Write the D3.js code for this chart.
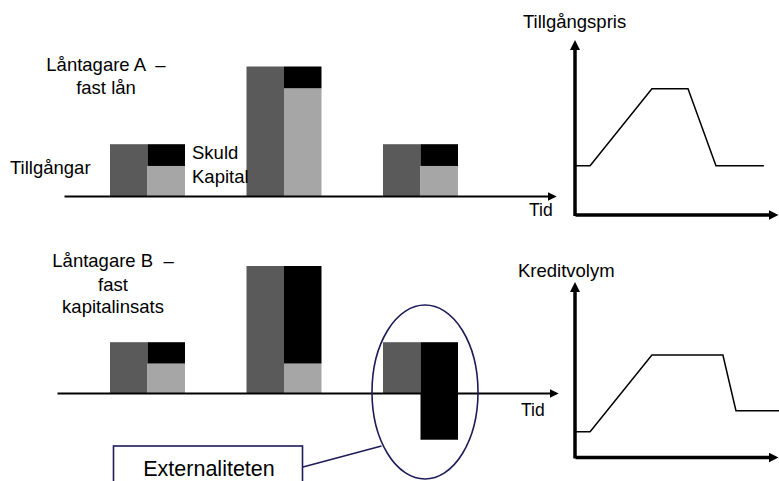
<!DOCTYPE html>
<html>
<head>
<meta charset="utf-8">
<script src="https://cdn.jsdelivr.net/npm/d3@7"></script>
<style>
  html, body { margin: 0; padding: 0; background: #fff; }
  svg { display: block; font-family: "Liberation Sans", Arial, sans-serif; }
</style>
</head>
<body>
<script>
// Balance sheets at three points in time (asset boom and bust)
const periods = ["t1", "t2", "t3"];

// Borrower A: fixed loan
const assetsA  = [100, 250, 100];
const debtA    = [42, 42, 42];
const capitalA = [58, 208, 58];

// Borrower B: fixed capital stake
const assetsB  = [100, 250, 100];
const debtB    = [42, 192, 192];
const capitalB = [58, 58, -92];

// Right-hand time paths (time 0–100, level 0–100)
const priceTime  = [0, 7.4, 37.7, 55.4, 69.1, 92.6];
const priceLevel = [28, 28, 72, 72, 28, 28];
const creditTime  = [0, 7.4, 37.7, 72.5, 78.9, 100];
const creditLevel = [14.5, 14.5, 58.3, 58.3, 26.5, 26.5];

const W = 779, H = 481;
const colAssets = "#5a5a5a", colCapital = "#a6a6a6", colDebt = "#000000";
const navy = "#1c1c58";
const fs = 18.5;

const svg = d3.select("body").append("svg")
  .attr("width", W).attr("height", H);

const defs = svg.append("defs");
function arrowMarker(id, size) {
  defs.append("marker")
    .attr("id", id)
    .attr("viewBox", "0 0 10 10")
    .attr("refX", 2).attr("refY", 5)
    .attr("markerUnits", "userSpaceOnUse")
    .attr("markerWidth", size).attr("markerHeight", size)
    .attr("orient", "auto")
    .append("path").attr("d", "M0,0 L10,5 L0,10 Z").attr("fill", "#000");
}
arrowMarker("arrowThin", 9);
arrowMarker("arrowThick", 10);

// Shared horizontal layout of the bar groups
const xGroup = d3.scalePoint().domain(periods).range([147.5, 420.5]);
const xPart = d3.scaleBand().domain(["assets", "liab"]).range([-37.5, 37.5]);

function balancePanel(cfg) {
  const y = d3.scaleLinear().domain([0, 250]).range([cfg.base, cfg.top]);
  const g = svg.append("g");

  const rows = periods.map((p, i) => ({
    p, assets: cfg.assets[i], debt: cfg.debt[i], capital: cfg.capital[i]
  }));

  // assets bar
  g.selectAll("rect.assets").data(rows).join("rect")
    .attr("class", "assets")
    .attr("x", d => xGroup(d.p) + xPart("assets"))
    .attr("width", xPart.bandwidth())
    .attr("y", d => y(d.assets))
    .attr("height", d => y(0) - y(d.assets))
    .attr("fill", colAssets);

  // capital (only when positive)
  g.selectAll("rect.capital").data(rows.filter(d => d.capital > 0)).join("rect")
    .attr("class", "capital")
    .attr("x", d => xGroup(d.p) + xPart("liab"))
    .attr("width", xPart.bandwidth())
    .attr("y", d => y(d.capital))
    .attr("height", d => y(0) - y(d.capital))
    .attr("fill", colCapital);

  // debt stacked on capital; reaches below zero when capital is negative
  g.selectAll("rect.debt").data(rows).join("rect")
    .attr("class", "debt")
    .attr("x", d => xGroup(d.p) + xPart("liab"))
    .attr("width", xPart.bandwidth())
    .attr("y", d => y(d.capital + d.debt))
    .attr("height", d => y(d.capital) - y(d.capital + d.debt))
    .attr("fill", colDebt);

  // time axis
  const xAxisScale = d3.scaleLinear().domain([0, 1]).range([cfg.axisX0, cfg.axisX1]);
  const ax = g.append("g")
    .attr("transform", `translate(0,${cfg.base})`)
    .call(d3.axisBottom(xAxisScale).tickValues([]).tickSizeOuter(0));
  ax.select(".domain")
    .attr("stroke", "#000").attr("stroke-width", 2)
    .attr("marker-end", "url(#arrowThin)");

  g.append("text").attr("x", cfg.tidX).attr("y", cfg.tidY)
    .attr("font-size", 17.5).text("Tid");
  return g;
}

balancePanel({ assets: assetsA, debt: debtA, capital: capitalA,
  base: 196, top: 66.5, axisX0: 64, axisX1: 549, tidX: 529, tidY: 216 });
balancePanel({ assets: assetsB, debt: debtB, capital: capitalB,
  base: 393, top: 266, axisX0: 57, axisX1: 551, tidX: 521, tidY: 416 });

// Labels of the balance-sheet panels
function multiline(x, ys, lines, size, anchor) {
  lines.forEach((t, i) => {
    svg.append("text").attr("x", x).attr("y", ys[i])
      .attr("font-size", size).attr("text-anchor", anchor || "middle")
      .attr("xml:space", "preserve").text(t);
  });
}
multiline(106, [71, 94], ["Låntagare A  –", "fast lån"], fs);
multiline(113, [267, 291, 313], ["Låntagare B  –", "fast", "kapitalinsats"], fs);
multiline(10, [174], ["Tillgångar"], fs, "start");
multiline(192, [159, 183], ["Skuld", "Kapital"], fs, "start");

// Externality callout
svg.append("ellipse")
  .attr("cx", 425).attr("cy", 392).attr("rx", 53).attr("ry", 87)
  .attr("fill", "none").attr("stroke", navy).attr("stroke-width", 1.6);
svg.append("line")
  .attr("x1", 303).attr("y1", 467).attr("x2", 381.5).attr("y2", 446)
  .attr("stroke", navy).attr("stroke-width", 1.6);
svg.append("rect")
  .attr("x", 113.5).attr("y", 446).attr("width", 189).attr("height", 60)
  .attr("fill", "#fff").attr("stroke", navy).attr("stroke-width", 1.6);
svg.append("text").attr("x", 209).attr("y", 476)
  .attr("font-size", 21.5).attr("text-anchor", "middle").text("Externaliteten");

// Right-hand time-path panels
function pathPanel(cfg) {
  const x = d3.scaleLinear().domain([0, 100]).range([575, 779]);
  const y = d3.scaleLinear().domain([0, 100]).range([cfg.base, cfg.top]);
  const g = svg.append("g");

  const xa = g.append("g").attr("transform", `translate(0,${cfg.base})`)
    .call(d3.axisBottom(x.copy().range([575, 770])).tickValues([]).tickSizeOuter(0));
  xa.select(".domain").attr("stroke", "#000").attr("stroke-width", 3.5)
    .attr("marker-end", "url(#arrowThick)");

  const ya = g.append("g").attr("transform", "translate(575,0)")
    .call(d3.axisLeft(y.copy().range([cfg.base + 1.5, cfg.top + 8])).tickValues([]).tickSizeOuter(0));
  ya.select(".domain").attr("stroke", "#000").attr("stroke-width", 3.5)
    .attr("d", `M0,${cfg.base + 1.5}V${cfg.top + 8}`)
    .attr("marker-end", "url(#arrowThick)");

  const pts = cfg.time.map((t, i) => [t, cfg.level[i]]);
  g.append("path").datum(pts)
    .attr("d", d3.line().x(d => x(d[0])).y(d => y(d[1])))
    .attr("fill", "none").attr("stroke", "#000").attr("stroke-width", 1.5);

  g.append("text").attr("x", cfg.titleX).attr("y", cfg.titleY)
    .attr("font-size", fs).text(cfg.title);
}

pathPanel({ time: priceTime, level: priceLevel, base: 214.5, top: 40,
  title: "Tillgångspris", titleX: 523, titleY: 28 });
pathPanel({ time: creditTime, level: creditLevel, base: 457, top: 282,
  title: "Kreditvolym", titleX: 518, titleY: 277 });
</script>
</body>
</html>
